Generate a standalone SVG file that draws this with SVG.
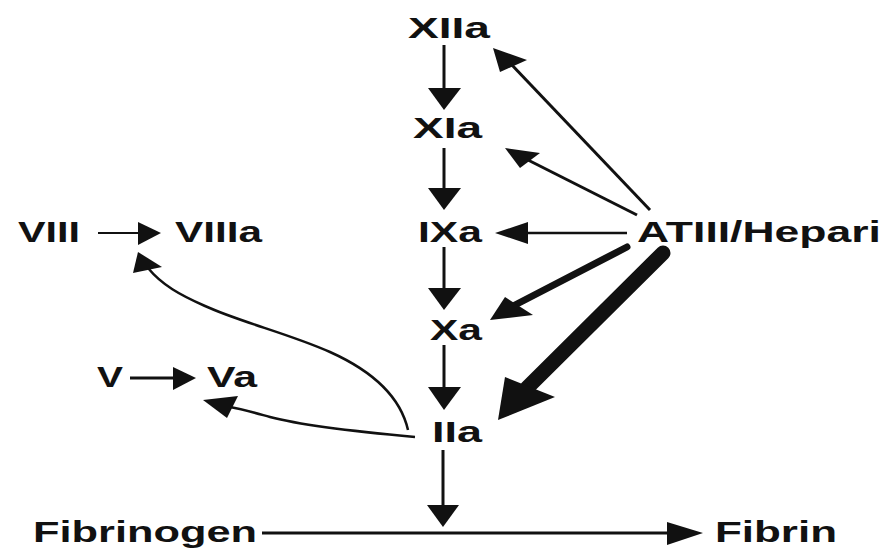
<svg xmlns="http://www.w3.org/2000/svg" width="889" height="549" viewBox="0 0 889 549">
<style>
.t{font-family:"Liberation Sans",Arial,sans-serif;font-weight:bold;font-size:29px;fill:#111}
.l{stroke:#111;fill:none;stroke-width:3}
.h{fill:#111;stroke:none}
</style>
<rect width="889" height="549" fill="#fff"/>
<g id="XIIa"><text class="t" x="408" y="38" textLength="82" lengthAdjust="spacingAndGlyphs">XIIa</text></g>
<g id="XIa"><text class="t" x="413" y="138" textLength="69" lengthAdjust="spacingAndGlyphs">XIa</text></g>
<g id="VIII"><text class="t" x="18" y="242" textLength="62" lengthAdjust="spacingAndGlyphs">VIII</text></g>
<g id="VIIIa"><text class="t" x="175" y="242" textLength="87" lengthAdjust="spacingAndGlyphs">VIIIa</text></g>
<g id="IXa"><text class="t" x="418" y="242" textLength="64" lengthAdjust="spacingAndGlyphs">IXa</text></g>
<g id="ATIII"><text class="t" x="637" y="242" textLength="244" lengthAdjust="spacingAndGlyphs">ATIII/Hepari</text></g>
<g id="Xa"><text class="t" x="430" y="340" textLength="52" lengthAdjust="spacingAndGlyphs">Xa</text></g>
<g id="V"><text class="t" x="97" y="387" textLength="26" lengthAdjust="spacingAndGlyphs">V</text></g>
<g id="Va"><text class="t" x="207" y="387" textLength="50" lengthAdjust="spacingAndGlyphs">Va</text></g>
<g id="IIa"><text class="t" x="432" y="442" textLength="50" lengthAdjust="spacingAndGlyphs">IIa</text></g>
<g id="Fibrinogen"><text class="t" x="33" y="542" textLength="224" lengthAdjust="spacingAndGlyphs">Fibrinogen</text></g>
<g id="Fibrin"><text class="t" x="715" y="542" textLength="122" lengthAdjust="spacingAndGlyphs">Fibrin</text></g>
<g id="connectors">
<line class="l" x1="444" y1="45" x2="444" y2="90"/><polygon class="h" points="428,88 461,88 444,110"/>
<line class="l" x1="444" y1="148" x2="444" y2="190"/><polygon class="h" points="428,188 461,188 444,210"/>
<line class="l" x1="444" y1="247" x2="444" y2="290"/><polygon class="h" points="428,288 461,288 444,310"/>
<line class="l" x1="444" y1="345" x2="444" y2="389"/><polygon class="h" points="428,387 461,387 444,410"/>
<line class="l" x1="443" y1="450" x2="443" y2="507"/><polygon class="h" points="427,505 459,505 443,527"/>
<line class="l" x1="262" y1="533" x2="670" y2="533"/><polygon class="h" points="667,522 667,545 703,533"/>
<line class="l" x1="98" y1="233" x2="140" y2="233" style="stroke-width:2"/><polygon class="h" points="138,222 138,245 161,233"/>
<line class="l" x1="130" y1="378" x2="175" y2="378"/><polygon class="h" points="173,367 173,390 196,378"/>
<line class="l" x1="650" y1="210" x2="510" y2="63"/><polygon class="h" points="493,48 527,60 500,72"/>
<line class="l" x1="637" y1="215" x2="528" y2="160"/><polygon class="h" points="505,148 540,153 520,168"/>
<line class="l" x1="627" y1="233" x2="525" y2="233" style="stroke-width:2.5"/><polygon class="h" points="495,233 528,222 528,244"/>
<line class="l" x1="627" y1="247" x2="515" y2="305" style="stroke-width:7;stroke-linecap:round"/><polygon class="h" points="490,320 505,297 533,315"/>
<line class="l" x1="663" y1="253" x2="527" y2="388" style="stroke-width:15;stroke-linecap:round"/><polygon class="h" points="498,420 505,377 555,397"/>
<path class="l" style="stroke-width:2.5" d="M408,430 C400,395 370,370 330,352 C290,334 240,322 205,306 C180,295 162,285 148,268"/><polygon class="h" points="138,252 133,273 162,267"/>
<path class="l" style="stroke-width:2.5" d="M415,437 C360,432 300,425 270,417 C252,412 242,409 230,407"/><polygon class="h" points="203,400 238,396 227,418"/>
</g>
</svg>
